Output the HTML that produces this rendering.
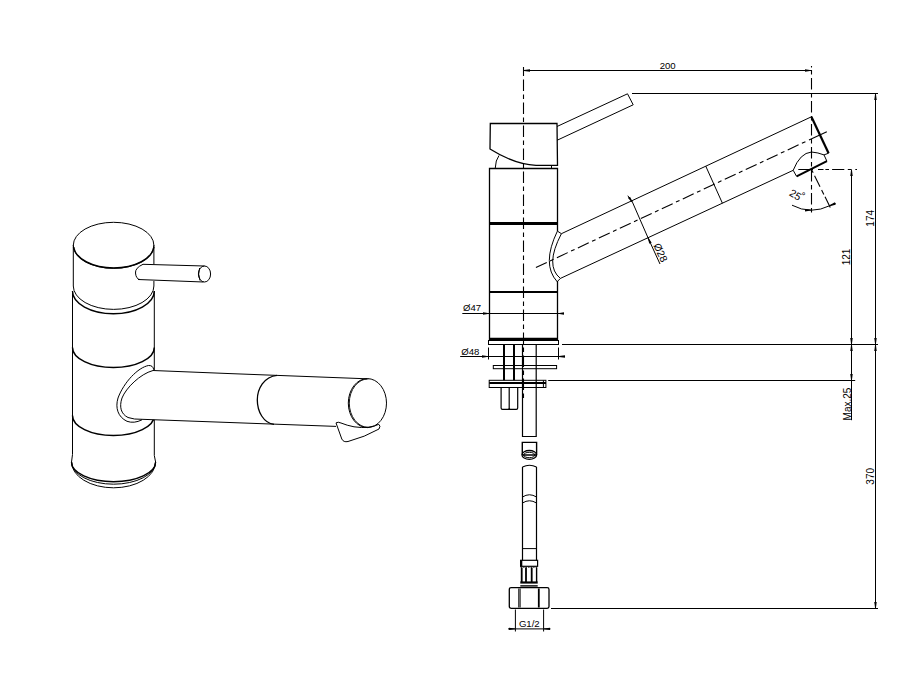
<!DOCTYPE html>
<html><head><meta charset="utf-8">
<style>
html,body{margin:0;padding:0;background:#fff;}
svg{display:block;}
text{font-family:"Liberation Sans",sans-serif;fill:#000;}
</style></head>
<body>
<svg width="900" height="700" viewBox="0 0 900 700">
<rect width="900" height="700" fill="#fff"/>
<defs>
<marker id="ar" viewBox="0 0 10 4" refX="10" refY="2" markerWidth="6.5" markerHeight="3.5" markerUnits="userSpaceOnUse" orient="auto-start-reverse">
<path d="M0,0.1 L10,1.5 L10,2.5 L0,3.9 Z" fill="#000"/></marker>
</defs>
<g fill="none" stroke="#000" stroke-width="1">
<!-- ===== LEFT ISO VIEW ===== -->
<!-- cap top ellipse -->
<ellipse cx="113.6" cy="245.3" rx="40.3" ry="23"/>
<path d="M73.6,247 A40.3,23 0 0 0 153.9,247" stroke-width="1.6"/>
<!-- cap sides -->
<path d="M73.3,245 V286 M153.9,245 V264 M153.9,281 V286"/>
<!-- cap bottom arc -->
<path d="M73.3,286 A40.3,23.4 0 0 0 153.9,286"/>
<!-- body top arc -->
<path d="M72.5,291 A40.9,22.7 0 0 0 154.3,291" stroke-width="1.4"/>
<!-- body sides -->
<path d="M72.5,291 V454.5 L71.5,462 M154.3,291 V370 M154.3,419.5 V455.5 L155.6,462"/>
<!-- ring 2 -->
<path d="M72.5,347.5 A40.9,20 0 0 0 154.3,347.5" stroke-width="1.5"/>
<!-- ring 3 -->
<path d="M72.5,415.5 A40.9,20 0 0 0 154.3,415.5" stroke-width="1.5"/>
<!-- base -->
<path d="M71.5,462 A42.05,19.7 0 0 0 155.6,462" stroke-width="1.4"/>
<path d="M71.5,462 A42.05,22.2 0 0 0 155.6,462"/>
<path d="M71.5,462 A42.05,25.8 0 0 0 155.6,462"/>
<!-- handle -->
<path d="M143,264.3 L204.5,266 M138,279.5 L203.5,282 M143,264.3 Q135,268 135.5,273 Q136,279 140,279.6"/>
<ellipse cx="204.5" cy="274" rx="6.1" ry="8"/>
<path d="M199.6,268 Q197.5,274 200,280.5"/>
<!-- spout left -->
<path d="M153,370.5 L367.1,378.8 L367.1,427 L336,426.4 L142,419.3 Q134,419.5 128,417.5 C121,414 119,407 122,398 C126,388 140,374 153,370.5 Z" fill="#fff" stroke="none"/>
<path d="M153,370.5 L230,373.6 L367.1,378.8 M142,419.3 L336,426.4"/>
<path d="M153,370.5 C140,374 126,388 122,398 C119,407 121,414 128,417.5 Q134,419.6 142,419.3"/>
<path d="M153.8,369.8 Q153,365.2 148.5,365.5 C138,367.5 124,382 118,398 C115,408 118,417 127,421.3 Q134,423.8 142,419.8"/>
<!-- spout joint -->
<path d="M277,375.3 C264,376.5 257.3,389 257.3,400 C257.3,411.5 263.5,423 274,424.4" stroke-width="1.3"/>
<!-- end ellipse -->
<ellipse cx="367.4" cy="403.1" rx="19.1" ry="24.5"/>
<path d="M368.4,378.8 A19.1,24.3 0 0 0 368.4,427.4" stroke-width="0.9"/>
<!-- aerator -->
<path d="M336,422.9 Q338,421.5 341,423 Q347,425.5 354,426.8 Q362,428 368,427.3 Q376,426 378.8,424.3 Q381,426 379,429 Q365,437 348,441.5 Q343.5,442.5 341.8,439 Z"/>

<!-- ===== RIGHT ORTHO VIEW ===== -->
<!-- dim 200 -->
<path d="M523.5,70.5 H811.5" marker-start="url(#ar)" marker-end="url(#ar)"/>
<!-- cap -->
<path d="M490.3,123.5 H557 L557.5,165.3 H536 C522,164.8 506,159 490,149 Z" stroke-width="1.3"/>
<!-- lever -->
<path d="M557,126.5 L627.5,93.8 L633.2,104.8 L557,140.3"/>
<!-- small arc under cap -->
<path d="M495.2,168.5 Q495.5,160 499,155.5"/>
<path d="M551.5,165.3 V168.5"/>
<!-- body -->
<path d="M557.5,231 V168.5 H489.5 V339.5 H557.5 V281" stroke-width="1.3"/>
<path d="M489.5,223.5 H557.5" stroke-width="2.9"/>
<path d="M489.5,292 H557.5" stroke-width="2.2"/>
<path d="M489.5,339 H557.5" stroke-width="2.6"/>
<!-- spout -->
<path d="M561.4,233.7 L811.4,116.8 M560.4,278.4 L793.2,170.3"/>
<path d="M811.4,116.8 L828.6,153.2" stroke-width="2.2"/>
<path d="M557.4,231.1 Q541.3,264.4 557.2,281.7 M557.4,231.1 L561.4,233.7 Q544.5,265.95 560.4,278.4 L557.2,281.7"/>
<path d="M705.7,166 L722.4,203.2"/>
<!-- aerator -->
<path d="M793.2,170.3 Q800,153 811.5,152 Q818,152.5 824,154.9 L826.9,161.2 M793.2,170.3 L796.6,176.4 M824,154.9 L828.6,153.2"/>
<path d="M796.6,176.4 L826.9,161.2" stroke-width="2"/>
<!-- base plates -->
<rect x="488.5" y="340.5" width="70" height="4"/>
<path d="M504,344.6 V380.2 M514,344.6 V380.2" stroke-width="2"/>
<path d="M536.2,344.6 V436.5 H522.5 V344.6" stroke-width="1.2"/>
<rect x="493.3" y="365.5" width="63.3" height="3.2"/>
<rect x="489.2" y="380.3" width="56.7" height="7.2"/>
<path d="M489.2,383 H546" stroke-width="1.8"/>
<path d="M543.4,380.3 V387.5"/>
<path d="M501.1,387.5 V408 Q501.1,409.4 502.5,409.4 H516.3 Q517.7,409.4 517.7,408 V387.5 M509.2,387.5 V408 Q509.2,409.4 508,409.4 M509.2,408 Q509.2,409.4 510.4,409.4" stroke-width="1.2"/>
<!-- lower piece -->
<path d="M522.3,455 V442.4 H536.6 V455 M522.8,455 H536.2" stroke-width="1.4"/>
<ellipse cx="529.3" cy="454.9" rx="7.3" ry="4.4" stroke-width="1.3"/>
<ellipse cx="529.3" cy="455" rx="5.6" ry="2.7" stroke-width="1"/>
<!-- hose -->
<path d="M522.5,467 Q529.4,463.5 536.5,467 M522.5,467 V560.5 M536.5,467 V560.5" stroke-width="1.2"/>
<path d="M522.5,497 Q529.4,492.5 536.5,497 M522.5,503 Q529.4,498.5 536.5,503 M522.5,548.6 H536.5"/>
<rect x="520.6" y="560.3" width="17" height="6" stroke-width="1.2"/>
<path d="M521.2,560.3 V566.4" stroke-width="2.2"/>
<path d="M520.6,567.3 H537.6" stroke-width="0.8" stroke-dasharray="1.5,1"/>
<path d="M521.7,567.5 V582 M526,567.5 V582 M531.7,567.5 V582" stroke-width="1.8"/>
<path d="M536.6,567.5 V582" stroke-width="1.4"/>
<path d="M520.3,582.5 H537.7" stroke-width="2.2"/>
<path d="M520.3,585.9 H537.7" stroke-width="1.4"/>
<!-- nut -->
<rect x="509.3" y="587.6" width="39.7" height="20.7" rx="1.8" stroke-width="1.3"/>
<path d="M518.8,588.5 V607.5 M520.1,588.5 V607.5" stroke-width="1"/>
<path d="M538.8,588.5 V607.5" stroke-width="1.8"/>
<!-- G1/2 -->
<path d="M515.4,609.5 V631.5 M543.6,609.5 V631.5"/>
<path d="M508,628.9 H515.4" marker-end="url(#ar)"/>
<path d="M550.5,628.9 H543.6" marker-end="url(#ar)"/>
<path d="M515.4,628.9 H543.6"/>
<!-- Ø47 -->
<path d="M462.3,313.5 H489.5" marker-end="url(#ar)"/>
<path d="M489.5,313.5 H557.7"/>
<path d="M563.5,313.5 H557.7" marker-end="url(#ar)"/>
<!-- Ø48 -->
<path d="M488.5,347.5 V359.5 M558.5,347.5 V359.5"/>
<path d="M460.2,356.5 H488.5" marker-end="url(#ar)"/>
<path d="M488.5,356.5 H558.5"/>
<path d="M564.5,356.5 H558.5" marker-end="url(#ar)"/>
<!-- ext lines -->
<path d="M632,93.5 H878 M562,344.5 H878 M548.2,380.5 H855.2 M551,608.5 H878"/>
<!-- dim 174 -->
<path d="M875.5,93.5 V344.5" marker-start="url(#ar)" marker-end="url(#ar)"/>
<path d="M875.5,344.5 V608.5" marker-start="url(#ar)" marker-end="url(#ar)"/>
<path d="M851.5,169.5 V344.5" marker-start="url(#ar)" marker-end="url(#ar)"/>
<path d="M851.5,344.5 V380.5" marker-start="url(#ar)" marker-end="url(#ar)"/>
<path d="M851.5,380.5 V420.2"/>
<!-- Ø28 dim -->
<path d="M627.8,195.7 L632.6,202.5" marker-end="url(#ar)"/>
<path d="M632.6,202.5 L647.8,237.3"/>
<path d="M660,264 L647.8,237.3" marker-end="url(#ar)"/>
<!-- 25 deg -->
<path d="M792,205.2 A40.7,40.7 0 0 0 811.5,210.2" marker-end="url(#ar)"/>
<path d="M811.5,210.2 A40.7,40.7 0 0 0 829.2,205.9"/>
<path d="M835.8,203.3 L829.2,205.9" marker-end="url(#ar)"/>
</g>
<!-- dashed center lines -->
<g fill="none" stroke="#000" stroke-width="1.1">
<path d="M523.5,67 V76"/>
<path d="M523.5,79.5 V401" stroke-dasharray="11.6,3.5,4.4,3.5"/>
<path d="M811.5,66 V67.5"/>
<path d="M811.5,70 V213" stroke-dasharray="4.4,3.5,11.6,3.5"/>
<path d="M535.9,267.5 L806,141.4" stroke-dasharray="12,3.63,3.9,3.63"/>
<path d="M809,140 L826.8,131.7"/>
<path d="M798.3,169.5 H857" stroke-dasharray="14.7,5,5.5,1.9,3.6,3.1,12.2,3.5,3.6,3.9,2"/>
<path d="M811.5,169.5 L830.3,207.5" stroke-dasharray="3.7,3.2,12.3,3.6,5,2.7,14"/>
</g>
<!-- texts -->
<g font-size="10">
<text font-size="9.6" x="667.7" y="69" text-anchor="middle">200</text>
<text font-size="9.6" x="472" y="310.5" text-anchor="middle">Ø47</text>
<text font-size="9.6" x="470.3" y="355" text-anchor="middle">Ø48</text>
<text font-size="9.6" x="529.3" y="626.9" text-anchor="middle">G1/2</text>
<text transform="translate(874,218.3) rotate(-90)" text-anchor="middle">174</text>
<text transform="translate(850.3,257) rotate(-90)" text-anchor="middle">121</text>
<text transform="translate(874.2,476.3) rotate(-90)" text-anchor="middle">370</text>
<text transform="translate(851,404) rotate(-90)" text-anchor="middle">Max.25</text>
<text font-size="10.3" transform="translate(657.3,254) rotate(65)" text-anchor="middle">Ø28</text>
<text font-size="10.6" transform="translate(793.6,198.1) rotate(31)" text-anchor="middle">25</text><text font-size="10" transform="translate(799,197.6) rotate(31)">°</text>
</g>
</svg>
</body></html>
